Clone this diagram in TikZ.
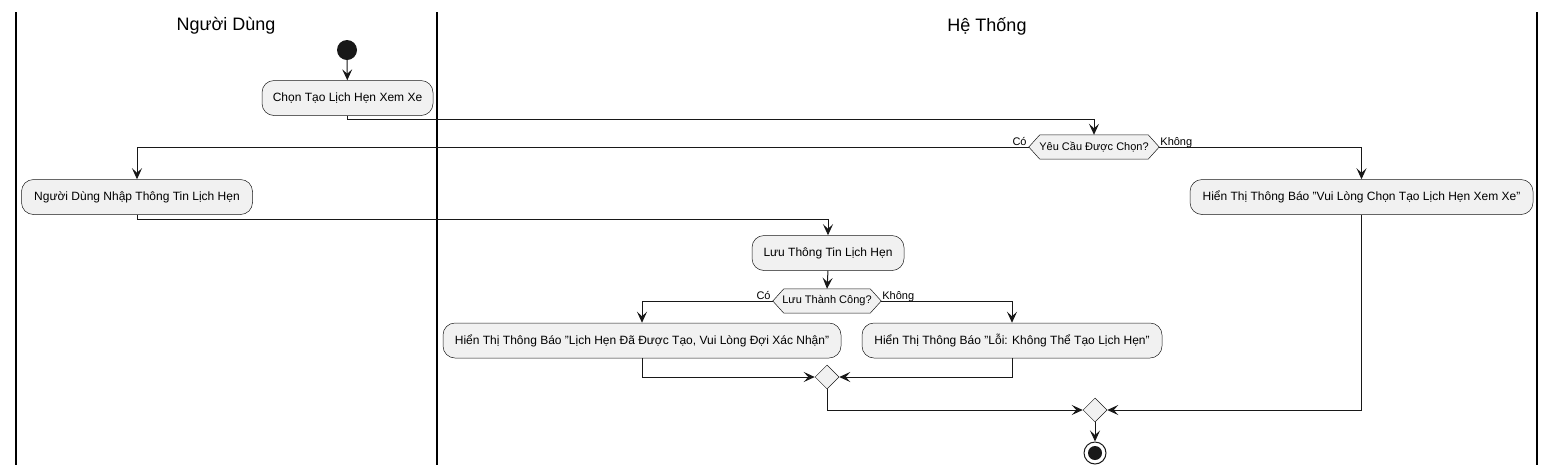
\documentclass[tikz,border=0pt]{standalone}
\usepackage{fontspec}
\setmainfont{Liberation Sans}
\usetikzlibrary{arrows.meta,shapes.geometric,backgrounds}
\definecolor{cline}{HTML}{181818}
\definecolor{cfill}{HTML}{F1F1F1}
\newcommand{\dq}{\symbol{34}}
\tikzset{
  act/.style={draw=cline, fill=cfill, line width=0.5pt, rounded corners=12pt,
    inner sep=0pt, minimum height=35pt, align=center, font=\fontsize{12}{14}\selectfont},
  hexnode/.style={draw=none, inner sep=0pt, minimum height=24pt, font=\fontsize{11}{13}\selectfont},
  hexline/.style={draw=cline, fill=cfill, line width=0.5pt},
  merge/.style={diamond, draw=cline, fill=cfill, line width=0.5pt, inner sep=0pt,
    minimum width=24pt, minimum height=24pt},
  arr/.style={draw=cline, line width=1pt, -{Stealth[length=11pt,width=10pt,inset=4.5pt]}},
  lbl/.style={inner sep=0pt, font=\fontsize{11}{13}\selectfont},
  lane/.style={draw=black, line width=1.5pt},
  lanetitle/.style={font=\fontsize{18}{21}\selectfont}
}
\begin{document}
\begin{tikzpicture}[x=1pt,y=-1pt]
\useasboundingbox (0,0) rectangle (1555,475);
% swimlanes
\coordinate (l1t) at (16,12); \coordinate (l1b) at (16,465);
\coordinate (l2t) at (437,12); \coordinate (l2b) at (437,465);
\coordinate (l3t) at (1537,12); \coordinate (l3b) at (1537,465);
\draw[lane] (l1t) -- (l1b);
\draw[lane] (l2t) -- (l2b);
\draw[lane] (l3t) -- (l3b);
\node[lanetitle] (t1) at (226,26) {Người Dùng};
\node[lanetitle] (t2) at (987,26) {Hệ Thống};
% nodes
\node[circle, fill=cline, minimum size=20pt, inner sep=0pt] (start) at (347,50) {};
\node[act, minimum width=171pt] (n1) at (347.5,98) {Chọn Tạo Lịch Hẹn Xem Xe};
\node[hexnode, minimum width=130pt] (h1) at (1094,147) {Yêu Cầu Được Chọn?};
\node[act, minimum width=231pt] (n2) at (137,197) {Người Dùng Nhập Thông Tin Lịch Hẹn};
\node[act, minimum width=343pt] (n3) at (1361.5,197) {Hiển Thị Thông Báo \dq Vui Lòng Chọn Tạo Lịch Hẹn Xem Xe\dq};
\node[act, minimum width=152pt] (n4) at (828,253) {Lưu Thông Tin Lịch Hẹn};
\node[hexnode, minimum width=108pt] (h2) at (827,301) {Lưu Thành Công?};
\node[act, minimum width=398pt] (n5) at (642,340.5) {Hiển Thị Thông Báo \dq Lịch Hẹn Đã Được Tạo, Vui Lòng Đợi Xác Nhận\dq};
\node[act, minimum width=300pt] (n6) at (1012,340.5) {Hiển Thị Thông Báo \dq Lỗi: Không Thể Tạo Lịch Hẹn\dq};
\node[merge] (d1) at (827,377) {};
\node[merge] (d2) at (1095,410) {};
\node[circle, draw=cline, line width=1pt, fill=white, minimum size=22pt, inner sep=0pt] (end) at (1095,453) {};
\node[circle, fill=cline, minimum size=14pt, inner sep=0pt] (endin) at (end.center) {};
% hexagon outlines
\begin{pgfonlayer}{background}
\draw[hexline] (h1.west) -- ([xshift=11pt]h1.north west) -- ([xshift=-11pt]h1.north east) -- (h1.east) -- ([xshift=-11pt]h1.south east) -- ([xshift=11pt]h1.south west) -- cycle;
\draw[hexline] (h2.west) -- ([xshift=11pt]h2.north west) -- ([xshift=-11pt]h2.north east) -- (h2.east) -- ([xshift=-11pt]h2.south east) -- ([xshift=11pt]h2.south west) -- cycle;
\end{pgfonlayer}
% labels
\node[lbl, anchor=base east, xshift=-2pt, yshift=2pt] (c1) at (h1.west) {Có};
\node[lbl, anchor=base west, xshift=1pt, yshift=2pt] (k1) at (h1.east) {Không};
\node[lbl, anchor=base east, xshift=-2pt, yshift=2pt] (c2) at (h2.west) {Có};
\node[lbl, anchor=base west, xshift=1pt, yshift=2pt] (k2) at (h2.east) {Không};
% connectors
\draw[arr] (start) -- (n1);
\draw[arr] (n1.south) -- ++(0,4) -| (h1.north);
\draw[arr] (h1.west) -| (n2.north);
\draw[arr] (h1.east) -| (n3.north);
\draw[arr] (n2.south) -- ++(0,5) -| (n4.north);
\draw[arr] (n4.south) -- (h2.north);
\draw[arr] (h2.west) -| (n5.north);
\draw[arr] (h2.east) -| (n6.north);
\draw[arr] (n5.south) |- (d1.west);
\draw[arr] (n6.south) |- (d1.east);
\draw[arr] (d1.south) |- (d2.west);
\draw[arr] (n3.south) |- (d2.east);
\draw[arr] (d2.south) -- (end.north);
\end{tikzpicture}
\end{document}
